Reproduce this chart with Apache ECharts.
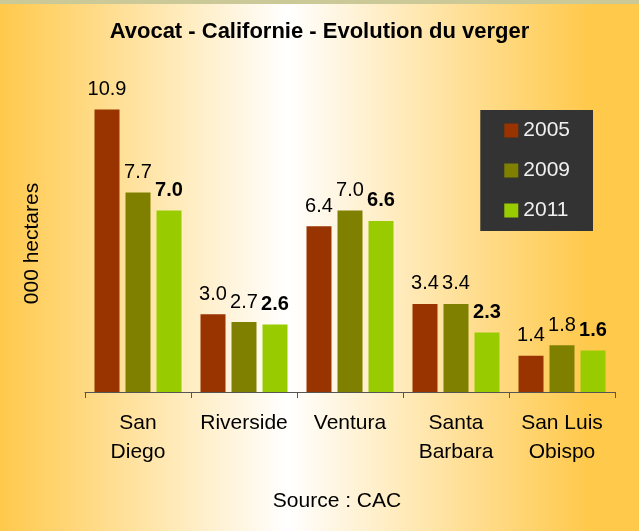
<!DOCTYPE html>
<html>
<head>
<meta charset="utf-8">
<script src="https://cdn.jsdelivr.net/npm/echarts@6/dist/echarts.min.js"></script>
<style>
  html, body { margin: 0; padding: 0; }
  #main { width: 639px; height: 531px; }
</style>
</head>
<body>
<div id="main"></div>
<script>
var categories = ['San\nDiego', 'Riverside', 'Ventura', 'Santa\nBarbara', 'San Luis\nObispo'];
var years = ['2005', '2009', '2011'];
var v2005 = [10.9, 3.0, 6.4, 3.4, 1.4];
var v2009 = [7.7, 2.7, 7.0, 3.4, 1.8];
var v2011 = [7.0, 2.6, 6.6, 2.3, 1.6];
var colors = ['#993300', '#808000', '#99CC00'];

var font = 'Liberation Sans, Arial, sans-serif';

function makeSeries(name, data, color, bold) {
    return {
        name: name,
        type: 'bar',
        data: data,
        barWidth: 25,
        barGap: '24%',
        itemStyle: { color: color },
        label: {
            show: true,
            position: 'top',
            distance: 10,
            fontFamily: font,
            fontSize: 20,
            fontWeight: bold ? 'bold' : 'normal',
            color: '#000',
            formatter: function (p) { return p.value.toFixed(1); }
        }
    };
}

var myChart = echarts.init(document.getElementById('main'));
myChart.setOption({
    animation: false,
    backgroundColor: new echarts.graphic.LinearGradient(0, 0, 1, 0, [
        { offset: 0, color: '#FFC94C' },
        { offset: 0.45, color: '#FFFFFF' },
        { offset: 0.92, color: '#FFC94C' },
        { offset: 1, color: '#FFC94C' }
    ]),
    graphic: [{
        type: 'rect',
        left: 0, top: 0,
        shape: { width: 639, height: 4 },
        style: { fill: '#CCC999' }
    }, {
        type: 'text',
        x: 337,
        y: 501,
        style: {
            text: 'Source : CAC',
            font: '21px ' + font,
            fill: '#000',
            align: 'center',
            verticalAlign: 'middle'
        }
    }],
    title: {
        text: 'Avocat - Californie - Evolution du verger',
        left: 'center',
        top: 16,
        textStyle: { fontFamily: font, fontSize: 22, fontWeight: 'bold', color: '#000' }
    },
    legend: {
        orient: 'vertical',
        right: 46,
        top: 110,
        padding: [10, 23, 10, 24],
        backgroundColor: '#333333',
        itemWidth: 14,
        itemHeight: 14,
        itemGap: 19,
        icon: 'rect',
        textStyle: { color: '#F0F0F0', fontFamily: font, fontSize: 21 },
        data: years
    },
    grid: { left: 85, right: 24, top: 81, bottom: 139 },
    xAxis: {
        type: 'category',
        data: categories,
        axisLine: { lineStyle: { color: '#555', width: 1 } },
        axisTick: { show: true, length: 6, lineStyle: { color: '#555' } },
        axisLabel: {
            margin: 17,
            fontFamily: font,
            fontSize: 21,
            lineHeight: 29,
            color: '#000',
            interval: 0
        }
    },
    yAxis: {
        type: 'value',
        min: 0,
        max: 12,
        name: '000 hectares',
        nameLocation: 'middle',
        nameGap: 42,
        nameRotate: 90,
        nameTextStyle: { fontFamily: font, fontSize: 21, color: '#000', padding: [0, 14, 0, 0] },
        axisLine: { show: false },
        axisTick: { show: false },
        axisLabel: { show: false },
        splitLine: { show: false }
    },
    series: [
        makeSeries(years[0], v2005, colors[0], false),
        makeSeries(years[1], v2009, colors[1], false),
        makeSeries(years[2], v2011, colors[2], true)
    ]
});
</script>
</body>
</html>
